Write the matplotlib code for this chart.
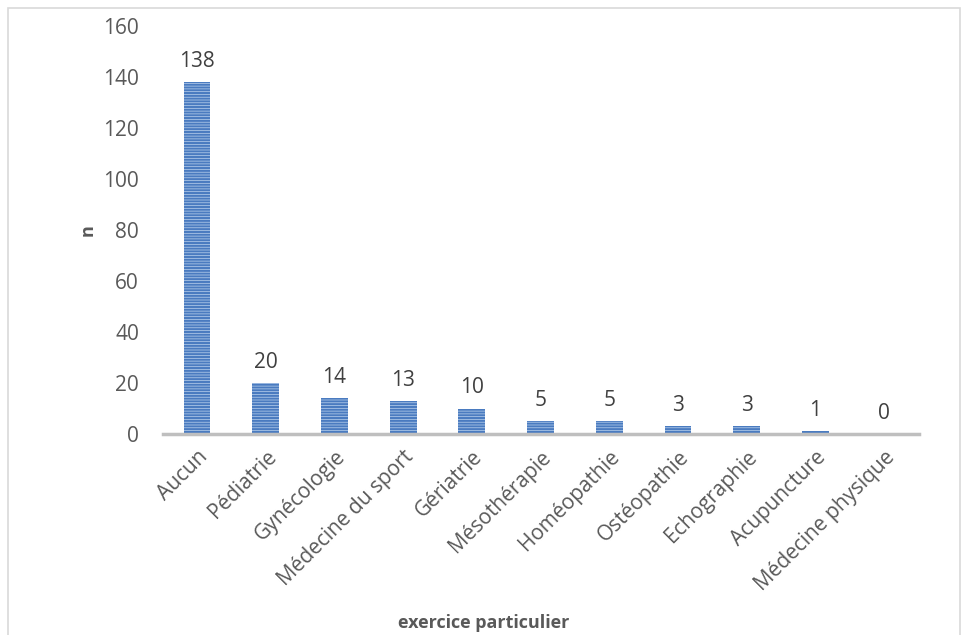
import matplotlib.pyplot as plt
import matplotlib.patches as patches
import numpy as np

categories = ['Aucun', 'Pédiatrie', 'Gynécologie', 'Médecine du sport', 'Gériatrie',
              'Mésothérapie', 'Homéopathie', 'Ostéopathie', 'Echographie',
              'Acupuncture', 'Médecine physique']
counts = [138, 20, 14, 13, 10, 5, 5, 3, 3, 1, 0]

plt.rcParams['font.family'] = ['Open Sans', 'DejaVu Sans']
plt.rcParams['hatch.linewidth'] = 1.5
grey = '#595959'
fs = 15

fig = plt.figure(figsize=(9.68, 6.35), dpi=100)
ax = fig.add_axes([0.168, 0.3165, 0.781, 0.643])

x = np.arange(len(categories))
bars = ax.bar(x, counts, width=0.39, color='#BDD3EE', edgecolor='#4A7BC0',
              hatch='------', linewidth=0)

for xi, v in zip(x, counts):
    ax.text(xi, v + 4, str(v), ha='center', va='bottom', fontsize=fs, color='#404040')

ax.set_xlim(-0.5, len(categories) - 0.5)
ax.set_ylim(0, 160)
ax.set_yticks(range(0, 161, 20))
ax.set_xticks(x)
ax.set_xticklabels(categories, rotation=45, ha='right', rotation_mode='anchor',
                   fontsize=fs, color=grey)
ax.tick_params(axis='y', length=0, labelsize=fs, labelcolor=grey, pad=17)
ax.tick_params(axis='x', length=0, pad=9)

for s in ['top', 'right', 'left']:
    ax.spines[s].set_visible(False)
ax.spines['bottom'].set_color('#BFBFBF')
ax.spines['bottom'].set_linewidth(2.5)

ax.set_ylabel('n', fontsize=13, fontweight='bold', color=grey, labelpad=5)
fig.text(0.5, 0.019, 'exercice particulier', ha='center', va='center',
         fontsize=13, fontweight='bold', color=grey)

fig.patches.append(patches.Rectangle((0.008, -0.01), 0.984, 0.998, transform=fig.transFigure,
                                     fill=False, edgecolor='#D9D9D9', linewidth=1.2))

fig.savefig('out.png', dpi=100)
